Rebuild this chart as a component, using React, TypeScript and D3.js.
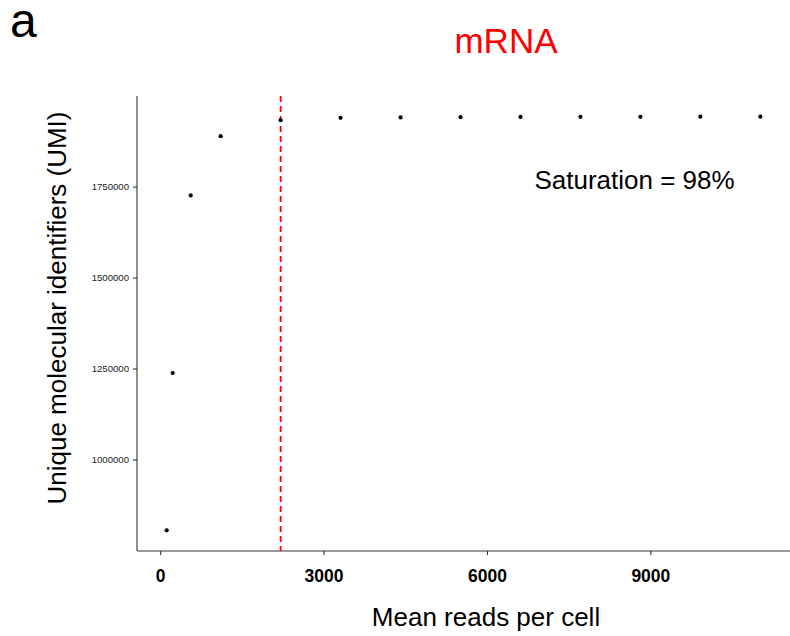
import React from "react";
import * as d3 from "d3";

const meanReads = [110, 220, 551, 1101, 2202, 3303, 4404, 5505, 6606, 7707, 8808, 9909, 11010];
const umiCounts = [806600, 1239000, 1727000, 1890000, 1934000, 1940300, 1941500, 1942200, 1942700, 1943000, 1943200, 1943400, 1943500];
const xTicks = [0, 3000, 6000, 9000];
const yTicks = [1000000, 1250000, 1500000, 1750000];
const cutoffReads = 2202;
const saturationLabel = "Saturation = 98%";
const saturationPos = [8700, 1770000];

const W = 790;
const H = 636;
const margin = { left: 137, right: 0, top: 96, bottom: 85 };

export default function App() {
  const xExt = d3.extent(meanReads) as [number, number];
  const yExt = d3.extent(umiCounts) as [number, number];
  const xPad = (xExt[1] - xExt[0]) * 0.05;
  const yPad = (yExt[1] - yExt[0]) * 0.05;
  const x = d3.scaleLinear().domain([xExt[0] - xPad, xExt[1] + xPad]).range([margin.left, W - margin.right]);
  const y = d3.scaleLinear().domain([yExt[0] - yPad, yExt[1] + yPad]).range([H - margin.bottom, margin.top]);
  const font = "'Liberation Sans', Arial, Helvetica, sans-serif";
  const x0 = margin.left;
  const yB = H - margin.bottom;

  return (
    <svg width={W} height={H} style={{ position: "absolute", left: 0, top: 0, background: "#fff" }} fontFamily={font}>
      <text x={10} y={36.5} fontSize={48} fill="#000">a</text>
      <text x={506} y={53} fontSize={35} fill="#ff0000" textAnchor="middle">mRNA</text>

      {/* axes */}
      <line x1={x0} x2={x0} y1={margin.top} y2={yB} stroke="#333" strokeWidth={1.1} />
      <line x1={x0} x2={W} y1={yB} y2={yB} stroke="#333" strokeWidth={1.1} />
      {yTicks.map((t) => (
        <g key={t}>
          <line x1={x0 - 4} x2={x0} y1={y(t)} y2={y(t)} stroke="#333" strokeWidth={1.1} />
          <text x={x0 - 8} y={y(t)} dy="0.35em" fontSize={9.6} textAnchor="end" fill="#1a1a1a">{t}</text>
        </g>
      ))}
      {xTicks.map((t) => (
        <g key={t}>
          <line x1={x(t)} x2={x(t)} y1={yB} y2={yB + 4} stroke="#333" strokeWidth={1.1} />
          <text x={x(t)} y={581.5} fontSize={17.5} fontWeight="bold" textAnchor="middle" fill="#000">{t}</text>
        </g>
      ))}

      {/* cutoff line */}
      <line x1={x(cutoffReads)} x2={x(cutoffReads)} y1={margin.top} y2={yB} stroke="#ff0000" strokeWidth={1.8} strokeDasharray="6,4" />

      {/* points */}
      {meanReads.map((r, i) => (
        <circle key={i} cx={x(r)} cy={y(umiCounts[i])} r={2.1} fill="#000" />
      ))}

      <text x={x(saturationPos[0])} y={y(saturationPos[1])} dy="0.35em" fontSize={26} textAnchor="middle" fill="#000">{saturationLabel}</text>

      <text x={486} y={625.5} fontSize={26} textAnchor="middle" fill="#000">Mean reads per cell</text>
      <text transform={`translate(66,308) rotate(-90)`} fontSize={26} textAnchor="middle" fill="#000">Unique molecular identifiers (UMI)</text>
    </svg>
  );
}
